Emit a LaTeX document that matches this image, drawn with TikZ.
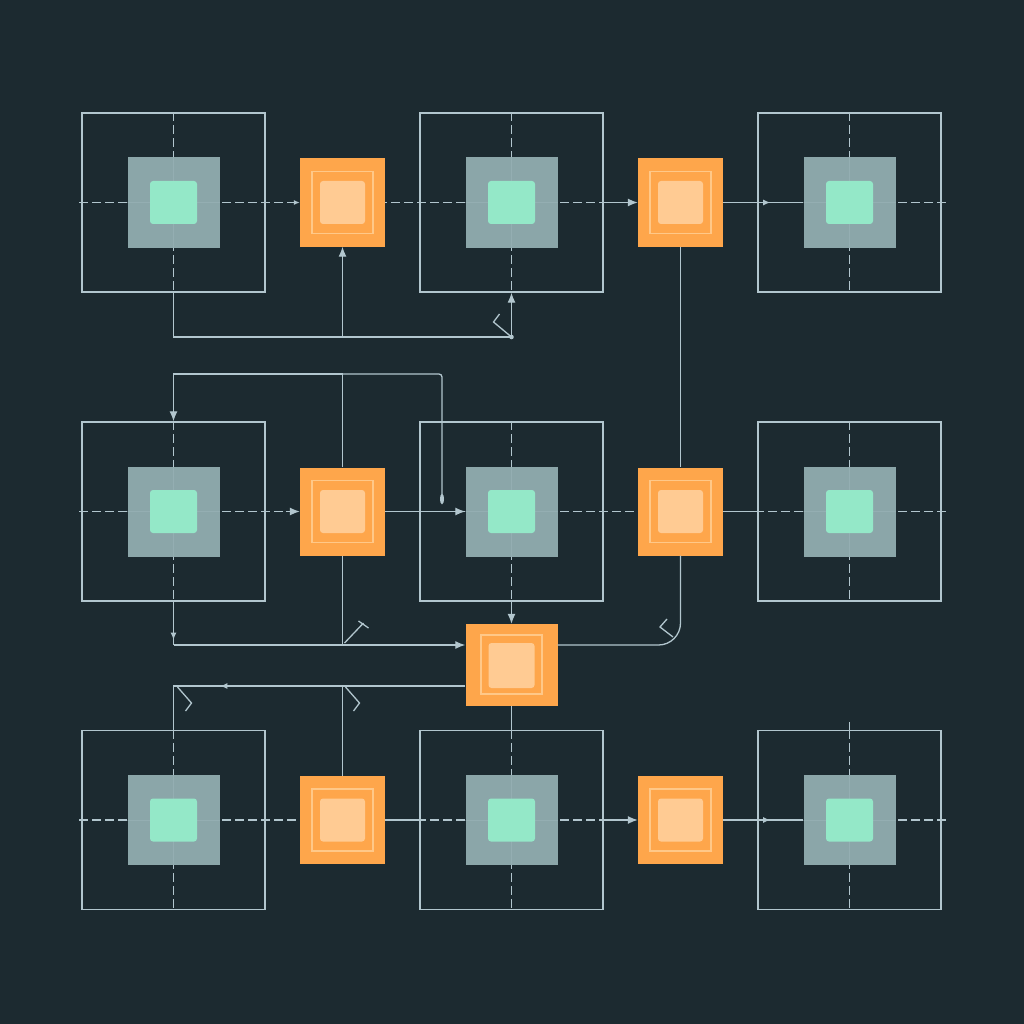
\documentclass[tikz,border=0pt]{standalone}
\usetikzlibrary{arrows.meta,decorations.markings}
\definecolor{bg}{HTML}{1C2A30}
\definecolor{ln}{HTML}{B2C6CE}
\definecolor{gsq}{HTML}{8BA6A9}
\definecolor{mint}{HTML}{94E8C8}
\definecolor{org}{HTML}{FEA64B}
\definecolor{orgl}{HTML}{FFCB93}
\definecolor{orgline}{HTML}{FFC888}
\begin{document}
\begin{tikzpicture}[x=1pt,y=-1pt,
  outer/.style={draw=ln,line width=1.4pt,minimum width=183pt,minimum height=179pt,inner sep=0pt},
  graysq/.style={fill=gsq,minimum width=92pt,minimum height=90pt,inner sep=0pt},
  mintsq/.style={fill=mint,rounded corners=3pt,minimum width=47pt,minimum height=43pt,inner sep=0pt},
  orsq/.style={fill=org,minimum width=85pt,minimum height=88pt,inner sep=0pt},
  orin/.style={draw=orgline,line width=1.1pt,minimum width=61pt,minimum height=62pt,inner sep=0pt},
  orlight/.style={fill=orgl,rounded corners=3pt,minimum width=45pt,minimum height=43pt,inner sep=0pt},
  cross/.style={draw=ln,line width=1.1pt,dash pattern=on 9pt off 4pt},
  faint/.style={draw=ln,line width=0.9pt,opacity=0.25},
  conn/.style={draw=ln,line width=1.3pt},
  tip/.style={-{Latex[length=10pt,width=8pt]}},
  smalltip/.style={-{Latex[length=6pt,width=5pt]}},
  midarrow/.style={postaction={decorate},decoration={markings,mark=at position #1 with {\arrow{Latex[length=7pt,width=6pt]}}}}
]
\useasboundingbox (0,0) rectangle (1024,1024);
\fill[bg] (0,0) rectangle (1024,1024);

% outline boxes, crosshairs, gray and mint squares
\foreach \r/\y in {1/202.5,2/511.5,3/820}{
  \foreach \c/\x in {1/173.5,2/511.5,3/849.5}{
    \node[outer] (o\r\c) at (\x,\y) {};
  }
}
\foreach \r in {1,2,3}{
  \draw[cross] ([xshift=-2pt]o\r1.west) -- ([xshift=4pt]o\r3.east);
  \foreach \c in {1,2,3}{
    \draw[cross] (o\r\c.north) -- (o\r\c.south);
  }
}
\draw[cross] ([yshift=8pt]o33.north) -- (o33.north);
\foreach \r/\y in {1/202.5,2/511.5,3/820}{
  \foreach \c/\x in {1/173.5,2/511.5,3/849.5}{
    \node[graysq] (g\r\c) at (\x,\y) {};
    \draw[faint] (g\r\c.west) -- (g\r\c.east);
    \draw[faint] (g\r\c.north) -- (g\r\c.south);
    \node[mintsq] (m\r\c) at (\x,\y) {};
  }
  \foreach \c/\x in {1/342.5,2/680.5}{
    \node[orsq] (a\r\c) at (\x,\y) {};
    \node[orin] (ai\r\c) at (\x,\y) {};
    \node[orlight] (al\r\c) at (\x,\y) {};
  }
}
% middle orange
\node[orsq,minimum width=92pt,minimum height=82pt] (am) at (511.5,665) {};
\node[orin,minimum height=59pt] (ami) at (511.5,664.5) {};
\node[orlight,minimum width=46pt,minimum height=45pt] (aml) at (511.5,665.5) {};

% junction coordinates
\coordinate (j1) at (173.5,337);
\coordinate (j2) at (342.5,337);
\coordinate (j3) at (511.5,337);
\coordinate (t1) at (173.5,374);
\coordinate (t2) at (342.5,374);
\coordinate (t3) at (442,374);
\coordinate (e1) at (442,504);
\coordinate (b1) at (173.5,645);
\coordinate (b2) at (342.5,645);
\coordinate (c1) at (173.5,686);
\coordinate (c2) at (342.5,686);

% row 1
\draw[conn,smalltip] ([xshift=-10pt]a11.west) -- (a11.west);
\draw[conn,tip] (o12.east) -- (a12.west);
\draw[conn,midarrow=47pt] (a12.east) -- (g13.west);
\draw[conn] (o11.south) -- (j1) -- (j3);
\draw[conn,tip] (j2) -- (a11.south);
\draw[conn,tip] (j3) -- (o12.south);
\fill[ln] (j3) circle (2.3);
\draw[conn] (j3) -- ++(-18,-15) -- ++(6,-8);
\draw[conn] (a12.south) -- (a22.north);

% row 2
\draw[conn] (a21.north) -- (t2);
\draw[conn,tip] (t2) -- (t1) -- (o21.north);
\draw[conn,rounded corners=3pt,-{Ellipse[length=10pt,width=4pt]}] (t2) -- (t3) -- (e1);
\draw[conn,tip] ([xshift=-14pt]a21.west) -- (a21.west);
\draw[conn,tip] (a21.east) -- (g22.west);
\draw[conn] (a22.east) -- (o23.west);
\draw[conn,midarrow=38pt] (o21.south) -- (b1);
\draw[conn,tip] (b1) -- (am.west |- b1);
\draw[conn] (a21.south) -- (b2);
\draw[conn] (b2) ++(2,-2) -- ++(19,-20);
\draw[conn] (b2) ++(16,-24) -- ++(10,7);
\draw[conn,tip] (o22.south) -- (am.north);
\draw[conn,rounded corners=22pt] (am.east |- b1) -- (a22.south |- b1) -- (a22.south);
\draw[conn] (a22.south |- b1) ++(-7.5,-8) -- ++(-13,-10) -- ++(7,-8);

% from middle orange to row 3
\draw[conn,midarrow=245pt] (am.west |- c1) -- (c1) -- (o31.north);
\draw[conn] (c2) -- (a31.north);
\draw[conn] (c1) ++(4,1) -- ++(14,16) -- ++(-6,8);
\draw[conn] (c2) ++(3,1) -- ++(14,16) -- ++(-6,8);
\draw[conn] (am.south) -- (o32.north);

% row 3
\draw[conn] (a31.east) -- (o32.west);
\draw[conn,tip] (o32.east) -- (a32.west);
\draw[conn,midarrow=47pt] (a32.east) -- (g33.west);
\end{tikzpicture}
\end{document}
